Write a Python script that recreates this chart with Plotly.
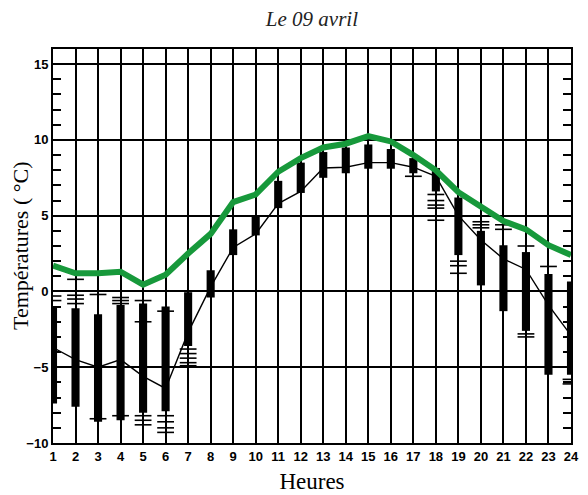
import plotly.graph_objects as go

# Hours of the day
hours = list(range(1, 25))

# Green curve (reference temperature)
green_temp = [1.7, 1.2, 1.2, 1.3, 0.45, 1.1, 2.5, 3.8, 5.9, 6.4, 7.9, 8.8,
              9.5, 9.75, 10.25, 9.9, 9.0, 8.0, 6.55, 5.6, 4.65, 4.1, 3.05, 2.4]

# Thin black curve (ensemble median)
median_temp = [-3.7, -4.5, -5.0, -4.5, -5.6, -6.4, -2.7, 0.3, 2.9, 3.8, 5.8, 6.6,
               8.15, 8.2, 8.5, 8.5, 8.2, 7.6, 5.0, 3.4, 2.15, 1.45, -0.9, -2.9]

# Dense part of the ensemble (solid black boxes)
box_low = [-7.4, -7.6, -8.6, -8.5, -8.0, -7.9, -3.6, -0.4, 2.4, 3.7, 5.5, 6.5,
           7.5, 7.8, 8.1, 8.1, 7.8, 6.6, 2.4, 0.4, -1.3, -2.6, -5.5, -5.5]
box_high = [-1.0, -1.1, -1.5, -0.9, -0.8, -1.0, -0.05, 1.4, 4.1, 5.0, 7.3, 8.5,
            9.2, 9.5, 9.7, 9.4, 8.8, 8.15, 6.2, 4.0, 3.05, 2.6, 1.15, 0.65]

# Isolated ensemble members (small horizontal dashes)
dash_hours = [1, 1, 2, 2, 2, 2, 3, 3, 4, 4, 4, 4,
              5, 5, 5, 5, 5, 6, 6, 6, 6, 6, 7, 7, 7, 7, 7,
              17, 18, 18, 18, 18, 18, 19, 19, 19, 20, 20, 20,
              21, 21, 22, 22, 22, 23, 24, 24]
dash_vals = [-0.6, -0.3, 0.8, -0.25, -0.5, -0.8, -0.2, -8.4, -0.4, -0.6, -0.8, -8.2,
             -0.6, -2.0, -8.2, -8.5, -8.8, -1.3, -8.2, -8.6, -9.0, -9.3,
             -3.8, -4.1, -4.4, -4.7, -4.9,
             7.6, 6.4, 6.0, 5.7, 5.5, 4.7, 2.0, 1.7, 1.2, 4.6, 4.4, 4.2,
             4.4, 4.1, 3.0, -2.8, -3.0, 1.65, -5.8, -6.1]

GREEN = "#17993b"
SERIF = "Liberation Serif, serif"
SANS = "Liberation Sans, Arial, sans-serif"

fig = go.Figure()

fig.add_trace(go.Bar(
    x=hours, y=[h - l for h, l in zip(box_high, box_low)], base=box_low,
    width=0.36, marker=dict(color="black", line=dict(width=0)),
    hoverinfo="skip"
))

fig.add_trace(go.Scatter(
    x=dash_hours, y=dash_vals, mode="markers",
    marker=dict(symbol="line-ew", size=12, line=dict(color="black", width=1.6)),
    hoverinfo="skip"
))

fig.add_trace(go.Scatter(
    x=hours, y=median_temp, mode="lines",
    line=dict(color="black", width=1.4)
))

fig.add_trace(go.Scatter(
    x=hours, y=green_temp, mode="lines",
    line=dict(color=GREEN, width=6)
))

# page body has an 8px margin, so the figure is a bit smaller than the window
fig.update_layout(
    width=580, height=487,
    paper_bgcolor="white", plot_bgcolor="white",
    margin=dict(l=45, r=17, t=41, b=52),
    showlegend=False,
    title=dict(text="<i>Le 09 avril</i>", x=0.524, xanchor="center",
               y=0.979, yanchor="middle",
               font=dict(family=SERIF, size=21, color="#222")),
    xaxis=dict(
        range=[1, 24], tickmode="linear", tick0=1, dtick=1,
        showgrid=True, gridcolor="black", gridwidth=1.5,
        showline=True, linecolor="black", linewidth=2, mirror=True,
        ticks="", zeroline=False, automargin=False,
        tickfont=dict(family=SANS, size=13, color="black", weight=600),
        title=dict(text="Heures", font=dict(family=SERIF, size=23, color="black"),
                   standoff=10),
    ),
    yaxis=dict(
        range=[-10, 16], tickmode="array", tickvals=[-10, -5, 0, 5, 10, 15],
        showgrid=True, gridcolor="black", gridwidth=1.5,
        showline=True, linecolor="black", linewidth=2, mirror="ticks",
        ticks="inside", ticklen=8, tickwidth=1.5, tickcolor="black",
        zeroline=False, automargin=False,
        minor=dict(dtick=1, tick0=0, ticks="inside", ticklen=8, tickwidth=1.5,
                   tickcolor="black", showgrid=False),
        tickfont=dict(family=SANS, size=13, color="black", weight=600),
    ),
    annotations=[dict(
        text="Températures ( °C)", textangle=-90,
        xref="paper", yref="paper", x=-33 / 518, y=0.5,
        xanchor="center", yanchor="middle", showarrow=False,
        font=dict(family=SERIF, size=22, color="black"),
    )],
)

fig.write_html("out.html")
